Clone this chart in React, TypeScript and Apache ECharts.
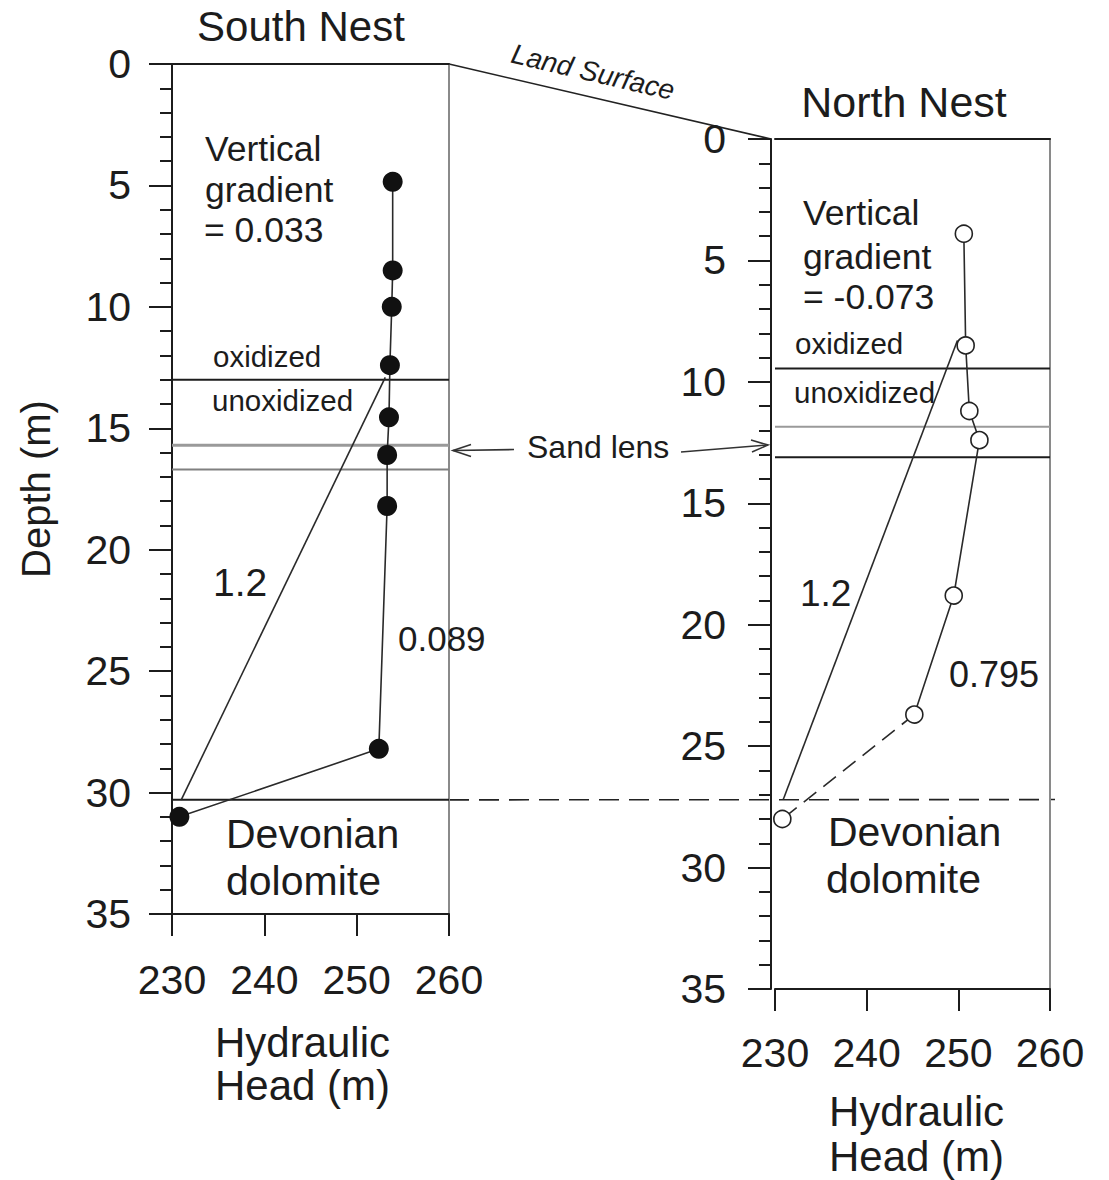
import React, { useEffect, useRef } from "react";
import * as echarts from "echarts";

// Hydraulic head (m) and depth below land surface (m) of the piezometers in each nest
const southHead = [253.9, 253.9, 253.8, 253.6, 253.5, 253.3, 253.3, 252.4, 230.8];
const southDepth = [4.85, 8.5, 10.0, 12.4, 14.55, 16.1, 18.2, 28.2, 31.0];
const northHead = [250.6, 250.8, 251.2, 252.3, 249.5, 245.2, 230.8];
const northDepth = [3.9, 8.5, 11.2, 12.4, 18.8, 23.7, 28.0];

// Reference gradient lines (labelled 1.2)
const southTrendHead = [231.0, 253.1];
const southTrendDepth = [30.3, 12.9];
const northTrendHead = [230.9, 249.9];
const northTrendDepth = [27.2, 8.3];

// Stratigraphic boundaries (m below land surface)
const southRedoxDepth = 13.0;
const southSandLensDepths = [15.7, 16.7];
const southDolomiteDepth = 30.3;
const northRedoxDepth = 9.45;
const northSandLensDepths = [11.85, 13.1];
const northDolomiteDepth = 27.2;

// Axis ranges and ticks
const headMin = 230;
const headMax = 260;
const headStep = 10;
const depthMin = 0;
const depthMax = 35;
const depthStep = 5;

// Annotation texts
const southGradientLines = ["Vertical", "gradient", "= 0.033"];
const northGradientLines = ["Vertical", "gradient", "= -0.073"];
const southLowerGradient = "0.089";
const northLowerGradient = "0.795";
const trendLabel = "1.2";

const FONT = "'Liberation Sans', Arial, Helvetica, sans-serif";
const INK = "#1c1c1c";

function bottomAxis(gridIndex: number, nameGap: number, lineHeight: number, labelMargin: number, namePad: number[]) {
  return {
    type: "value",
    gridIndex,
    position: "bottom",
    min: headMin,
    max: headMax,
    interval: headStep,
    name: "Hydraulic\nHead (m)",
    nameLocation: "middle",
    nameGap,
    nameTextStyle: { fontSize: 42, lineHeight, color: INK, fontFamily: FONT, padding: namePad },
    axisLine: { show: true, onZero: false, lineStyle: { color: INK, width: 2 } },
    axisTick: { show: true, inside: false, length: 22, lineStyle: { color: INK, width: 2 } },
    axisLabel: { fontSize: 41, color: INK, fontFamily: FONT, margin: labelMargin },
    splitLine: { show: false },
  };
}

function topAxis(gridIndex: number) {
  return {
    type: "value",
    gridIndex,
    position: "top",
    min: headMin,
    max: headMax,
    axisLine: { show: true, onZero: false, lineStyle: { color: INK, width: 2 } },
    axisTick: { show: false },
    axisLabel: { show: false },
    splitLine: { show: false },
  };
}

function depthAxis(gridIndex: number, offset: number, withName: boolean) {
  return {
    type: "value",
    gridIndex,
    position: "left",
    offset,
    inverse: true,
    min: depthMin,
    max: depthMax,
    interval: depthStep,
    name: withName ? "Depth (m)" : "",
    nameLocation: "middle",
    nameRotate: 90,
    nameGap: 116,
    nameTextStyle: { fontSize: 40, color: INK, fontFamily: FONT },
    axisLine: { show: true, onZero: false, lineStyle: { color: INK, width: 2 } },
    axisTick: { show: true, inside: false, length: 23, lineStyle: { color: INK, width: 2 } },
    minorTick: { show: true, splitNumber: 5, length: 12, lineStyle: { color: INK, width: 2 } },
    axisLabel: { fontSize: 41, color: INK, fontFamily: FONT, margin: 41 + offset },
    splitLine: { show: false },
  };
}

function rightBorderAxis(gridIndex: number) {
  return {
    type: "value",
    gridIndex,
    position: "right",
    inverse: true,
    min: depthMin,
    max: depthMax,
    axisLine: { show: true, onZero: false, lineStyle: { color: "#8a8a8a", width: 2 } },
    axisTick: { show: false },
    axisLabel: { show: false },
    splitLine: { show: false },
  };
}

function layerLine(axisIndex: number, depth: number, color: string, width: number) {
  return {
    type: "line",
    xAxisIndex: axisIndex,
    yAxisIndex: axisIndex,
    data: [
      [headMin, depth],
      [headMax, depth],
    ],
    symbol: "none",
    silent: true,
    z: 2,
    lineStyle: { color, width },
  };
}

function zip(xs: number[], ys: number[]) {
  return xs.map((x, i) => [x, ys[i]]);
}

function label(text: string, x: number, y: number, size: number, extra: any = {}) {
  return {
    type: "text",
    x,
    y,
    silent: true,
    z: 20,
    ...extra,
    style: {
      text,
      fill: INK,
      font: `${extra.italic ? "italic " : ""}${size}px ${FONT}`,
      textAlign: extra.align || "left",
      textVerticalAlign: "middle",
      align: extra.align || "left",
      verticalAlign: "middle",
    },
  };
}

export default function App() {
  const ref = useRef<HTMLDivElement>(null);

  useEffect(() => {
    document.body.style.margin = "0";
    if (!ref.current) return;
    const chart = echarts.init(ref.current, null, { renderer: "svg" });

    const southPts = zip(southHead, southDepth);
    const northPts = zip(northHead, northDepth);
    const lastSolid = northPts.length - 2;

    chart.setOption({
      animation: false,
      backgroundColor: "#ffffff",
      textStyle: { fontFamily: FONT },
      grid: [
        { left: 172, top: 64, width: 277, height: 850, outerBoundsMode: "none", containLabel: false },
        { left: 775, top: 139, width: 275, height: 850, outerBoundsMode: "none", containLabel: false },
      ],
      xAxis: [
        bottomAxis(0, 107, 43, 45, [0, 16, 0, 0]),
        topAxis(0),
        bottomAxis(1, 100, 45, 43, [0, 0, 0, 8]),
        topAxis(1),
      ],
      yAxis: [depthAxis(0, 0, true), rightBorderAxis(0), depthAxis(1, 4, false), rightBorderAxis(1)],
      series: [
        // South nest layers
        layerLine(0, southRedoxDepth, INK, 2),
        layerLine(0, southSandLensDepths[0], "#9a9a9a", 3),
        layerLine(0, southSandLensDepths[1], "#808080", 2),
        layerLine(0, southDolomiteDepth, INK, 2),
        // North nest layers
        layerLine(2, northRedoxDepth, INK, 2),
        layerLine(2, northSandLensDepths[0], "#9a9a9a", 2),
        layerLine(2, northSandLensDepths[1], INK, 2),
        // Gradient reference lines
        {
          type: "line",
          xAxisIndex: 0,
          yAxisIndex: 0,
          data: zip(southTrendHead, southTrendDepth),
          symbol: "none",
          z: 3,
          lineStyle: { color: "#2a2a2a", width: 1.6 },
        },
        {
          type: "line",
          xAxisIndex: 2,
          yAxisIndex: 2,
          data: zip(northTrendHead, northTrendDepth),
          symbol: "none",
          z: 3,
          lineStyle: { color: "#2a2a2a", width: 1.6 },
        },
        // South head profile
        {
          type: "line",
          xAxisIndex: 0,
          yAxisIndex: 0,
          data: southPts,
          symbol: "none",
          z: 4,
          lineStyle: { color: "#2a2a2a", width: 1.6 },
        },
        {
          type: "scatter",
          xAxisIndex: 0,
          yAxisIndex: 0,
          data: southPts,
          symbol: "circle",
          symbolSize: 20,
          z: 6,
          itemStyle: { color: "#111", opacity: 1 },
        },
        // North head profile: measured section solid, extrapolation into dolomite dashed
        {
          type: "line",
          xAxisIndex: 2,
          yAxisIndex: 2,
          data: northPts.slice(0, lastSolid + 1),
          symbol: "none",
          z: 4,
          lineStyle: { color: "#2a2a2a", width: 1.6 },
        },
        {
          type: "line",
          xAxisIndex: 2,
          yAxisIndex: 2,
          data: northPts.slice(lastSolid),
          symbol: "none",
          z: 4,
          lineStyle: { color: "#2a2a2a", width: 1.6, type: [16, 9] },
        },
        {
          type: "scatter",
          xAxisIndex: 2,
          yAxisIndex: 2,
          data: northPts,
          symbol: "circle",
          symbolSize: 17,
          z: 6,
          itemStyle: { color: "#ffffff", borderColor: "#222", borderWidth: 1.6, opacity: 1 },
        },
      ],
    });

    const sp = (x: number, y: number) => chart.convertToPixel({ gridIndex: 0 }, [x, y]) as number[];
    const np = (x: number, y: number) => chart.convertToPixel({ gridIndex: 1 }, [x, y]) as number[];

    const landA = sp(headMax, depthMin);
    const landB = np(headMin, depthMin);
    const dolA = sp(headMax, southDolomiteDepth);
    const dolB = np(headMax, northDolomiteDepth);
    const lensL = sp(headMax, 16.0);
    const lensR = np(headMin, 12.6);
    const landAngle = Math.atan2(landB[1] - landA[1], landB[0] - 4 - landA[0]);

    const graphics: any[] = [
      // titles
      label("South Nest", 301, 26, 42, { align: "center" }),
      label("North Nest", 904, 102, 43, { align: "center" }),
      // land surface connecting the two nests
      {
        type: "line",
        silent: true,
        shape: { x1: landA[0], y1: landA[1], x2: landB[0] - 4, y2: landB[1] },
        style: { stroke: "#222", lineWidth: 1.6 },
      },
      label("Land Surface", 593, 72, 28, { italic: true, align: "center", rotation: -landAngle, originX: 0, originY: 0 }),
      // top of the dolomite, traced between the nests
      {
        type: "line",
        silent: true,
        shape: { x1: dolA[0], y1: dolA[1], x2: dolB[0] + 5, y2: dolB[1] },
        style: { stroke: "#222", lineWidth: 1.6, lineDash: [20, 10] },
      },
      // sand lens arrows
      label("Sand lens", 527, 447, 32),
      {
        type: "line",
        silent: true,
        shape: { x1: 514, y1: lensL[1] - 3, x2: lensL[0] + 4, y2: lensL[1] - 2 },
        style: { stroke: "#333", lineWidth: 1.6 },
      },
      {
        type: "polyline",
        silent: true,
        shape: {
          points: [
            [lensL[0] + 22, lensL[1] - 8],
            [lensL[0] + 4, lensL[1] - 2],
            [lensL[0] + 22, lensL[1] + 4],
          ],
        },
        style: { stroke: "#333", lineWidth: 1.6, fill: null },
      },
      {
        type: "line",
        silent: true,
        shape: { x1: 681, y1: lensR[1] + 7, x2: lensR[0] - 7, y2: lensR[1] },
        style: { stroke: "#333", lineWidth: 1.6 },
      },
      {
        type: "polyline",
        silent: true,
        shape: {
          points: [
            [lensR[0] - 24, lensR[1] - 5],
            [lensR[0] - 7, lensR[1]],
            [lensR[0] - 23, lensR[1] + 7],
          ],
        },
        style: { stroke: "#333", lineWidth: 1.6, fill: null },
      },
      // South nest annotations
      label(southGradientLines[0], 205, 149, 35.5),
      label(southGradientLines[1], 205, 190, 35.5),
      label(southGradientLines[2], 204, 230, 35.5),
      label("oxidized", 213, 356, 29.5),
      label("unoxidized", 212, 400, 29.5),
      label(trendLabel, 213, 582, 39),
      label(southLowerGradient, 398, 638, 35),
      label("Devonian", 226, 834, 41),
      label("dolomite", 226, 881, 41),
      // North nest annotations
      label(northGradientLines[0], 803, 213, 35.5),
      label(northGradientLines[1], 803, 257, 35.5),
      label(northGradientLines[2], 803, 297, 35.5),
      label("oxidized", 795, 343, 29.5),
      label("unoxidized", 794, 392, 29.5),
      label(trendLabel, 800, 593, 37),
      label(northLowerGradient, 949, 674, 36),
      label("Devonian", 828, 832, 41),
      label("dolomite", 826, 879, 41),
    ];

    chart.setOption({ graphic: graphics });

    return () => chart.dispose();
  }, []);

  return <div ref={ref} style={{ width: 1109, height: 1180 }} />;
}
